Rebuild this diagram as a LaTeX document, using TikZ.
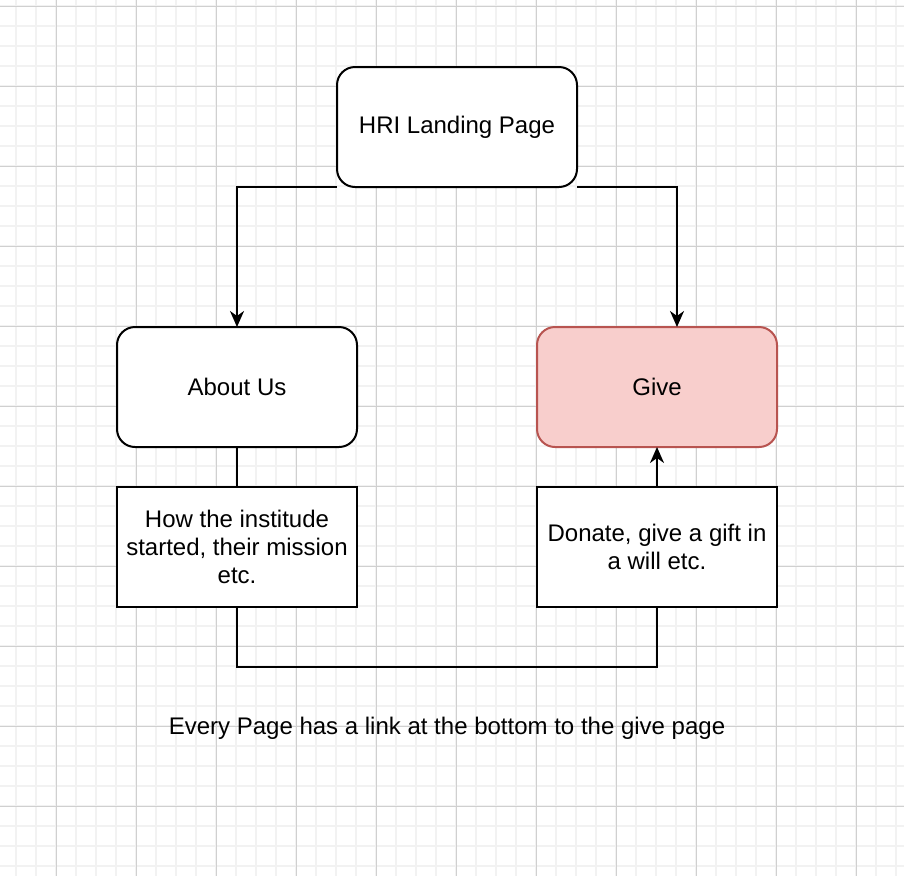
\documentclass[tikz,border=0pt]{standalone}
\usepackage{fontspec}
\setmainfont{Liberation Sans}
\usepackage{tikz}
\usetikzlibrary{arrows.meta}

\definecolor{givefill}{HTML}{F8CECC}
\definecolor{giveline}{HTML}{B85450}
\definecolor{gridminor}{HTML}{F2F2F2}
\definecolor{gridmajor}{HTML}{D0D0D0}

\begin{document}
\begin{tikzpicture}[x=1pt, y=-1pt,
        page_style/.style={rectangle,rounded corners=18pt,draw=black,fill=white,line width=2pt,
            minimum width=240pt,minimum height=120pt,inner sep=0pt,outer sep=0pt,
            align=center,font=\fontsize{24}{28}\selectfont},
        give_style/.style={page_style,draw=giveline,fill=givefill},
        note_style/.style={page_style,sharp corners},
        caption_style/.style={inner sep=0pt,font=\fontsize{24}{28}\selectfont},
        edge_style/.style={draw=black, line width=2pt,-{Stealth[length=16pt,width=14pt,inset=5pt]}},
        line_style/.style={draw=black, line width=2pt},
        minor_grid/.style={draw=gridminor, line width=1.5pt},
        major_grid/.style={draw=gridmajor, line width=1pt}]

        \fill [white] (0,0) rectangle (904,876);
        \useasboundingbox (0,0) rectangle (904,876);

        % grid
        \foreach \x in {16,36,...,896} \draw [minor_grid] (\x,0) -- (\x,876);
        \foreach \y in {6,26,...,866} \draw [minor_grid] (0,\y) -- (904,\y);
        \foreach \x in {56,136,...,856} \draw [major_grid] (\x,0) -- (\x,876);
        \foreach \y in {6,86,...,806} \draw [major_grid] (0,\y) -- (904,\y);

        \node [page_style](n1) at (457,127) {HRI Landing Page};

        \node [page_style](n2) at (237,387) {About Us};

        \node [give_style](n3) at (657,387) {Give};

        \node [note_style](n4) at (237,547) {How the institude\\started, their mission\\etc.};

        \node [note_style](n5) at (657,547) {Donate, give a gift in\\a will etc.};

        \node [caption_style](n6) at (447,728) {Every Page has a link at the bottom to the give page};

        \draw [edge_style] (n1.south west) -| (n2.north);

        \draw [edge_style] (n1.south east) -| ([xshift=20pt]n3.north);

        \draw [line_style] (n2.south) -- (n4.north);

        \draw [edge_style] (n5.north) -- (n3.south);

        \draw [line_style] (n4.south) -- ++(0,60) -| (n5.south);

        \end{tikzpicture}
\end{document}
